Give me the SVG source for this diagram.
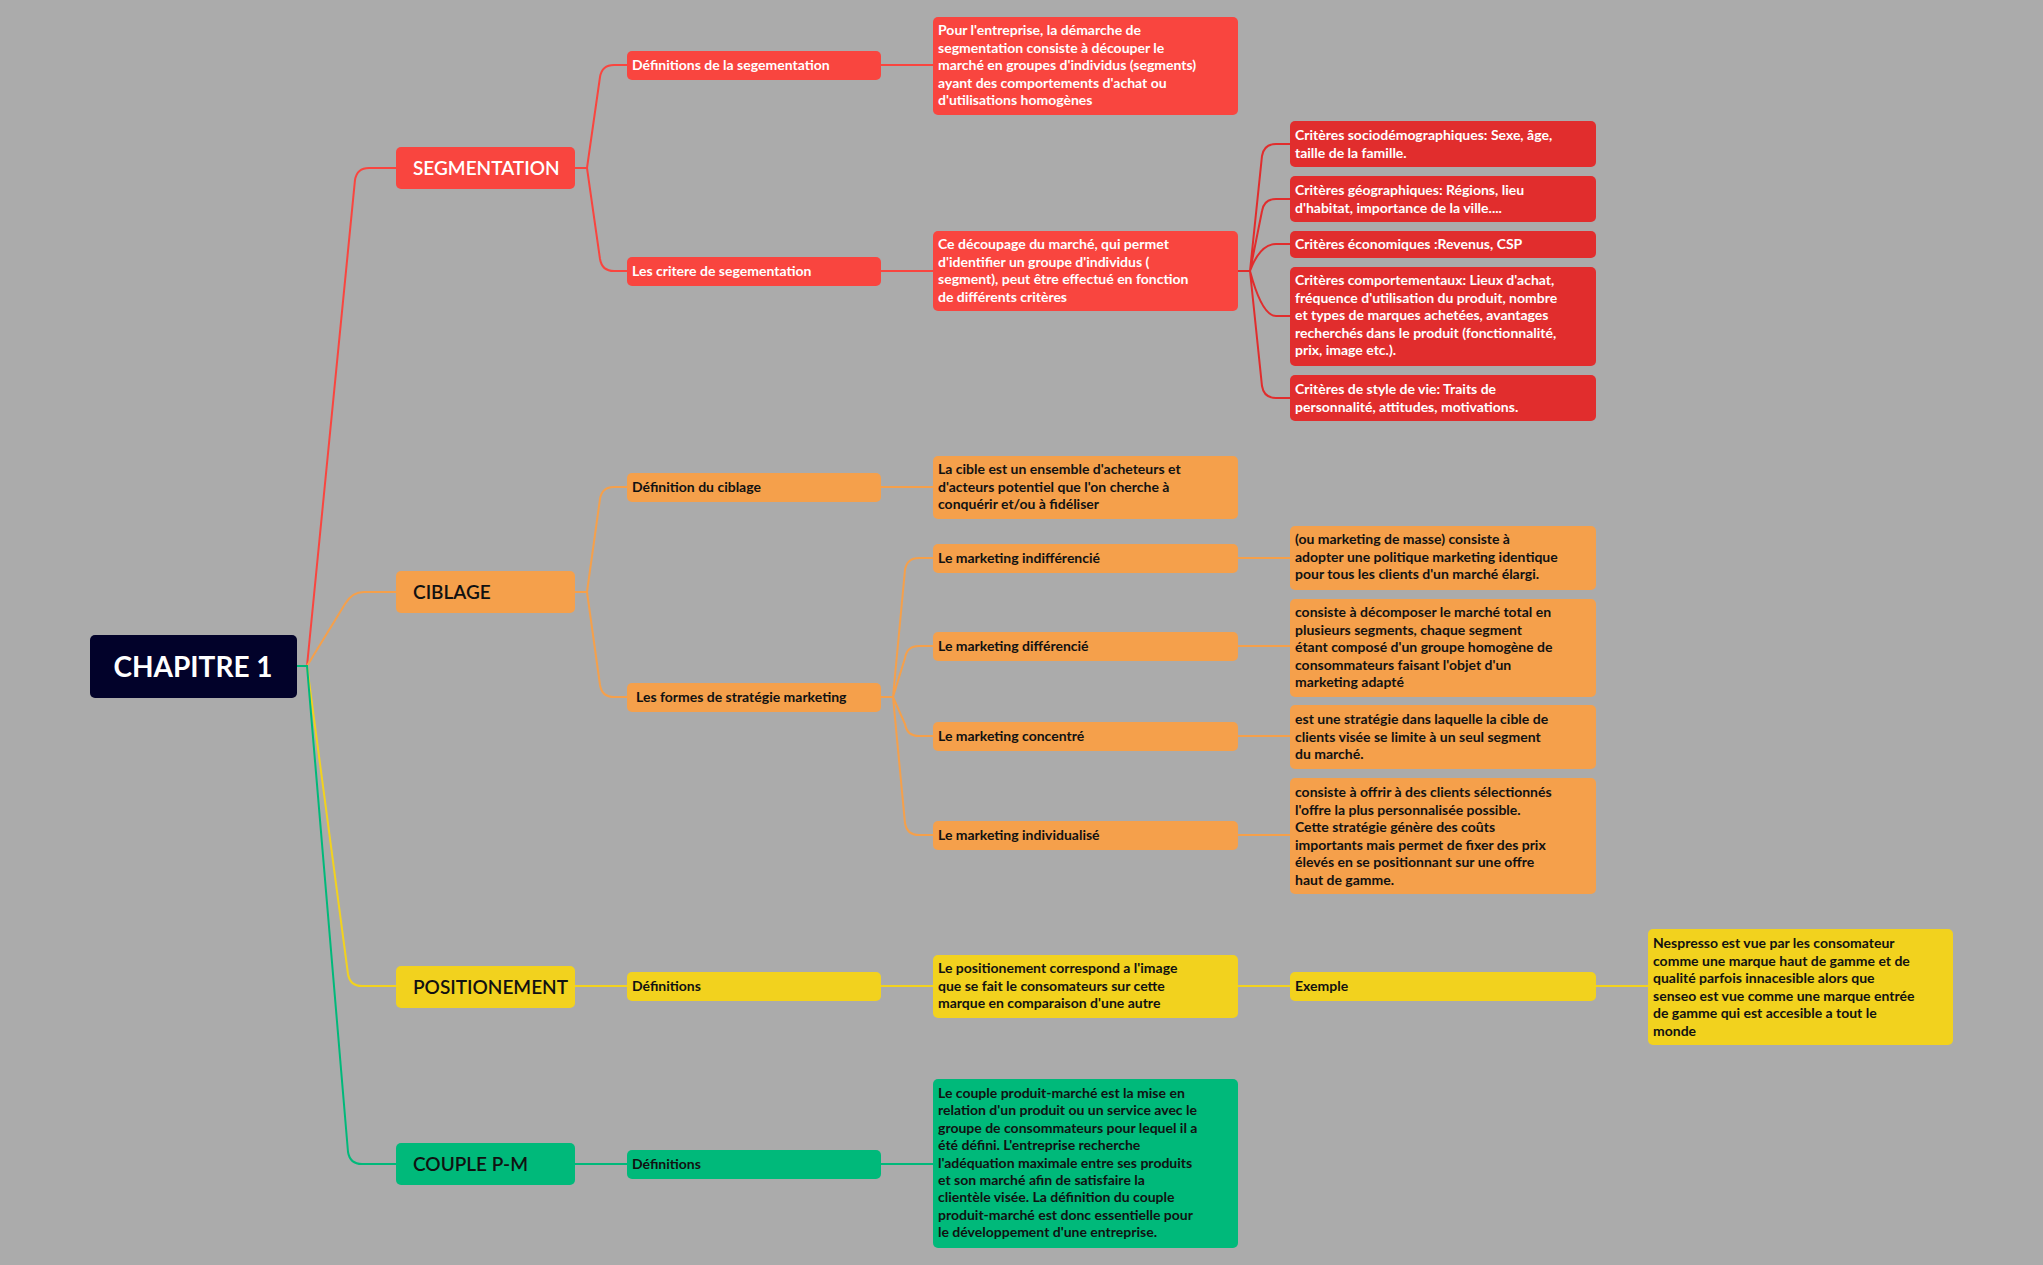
<svg xmlns="http://www.w3.org/2000/svg" width="2043" height="1265" viewBox="0 0 2043 1265">
<style>
text{font-family:Lato,"Open Sans","Liberation Sans",sans-serif;font-weight:700}
.t{font-size:14px}
.w{fill:#fff}.k{fill:#111}
.l1{font-size:19px;font-weight:600}
.c path{fill:none;stroke-width:2}
.r{fill:#f9453f}.rd{fill:#e12d2d}.o{fill:#f5a04b}.y{fill:#f2d21e}.g{fill:#00b97a}
</style>
<rect width="2043" height="1265" fill="#ababab"/>
<g class="c">
<path stroke="#f9453f" d="M297,666 H307 L355,180 Q357,168 369,168 H396"/>
<path stroke="#f5a04b" d="M297,666 H307 L345,604 Q352,592 364,592 H396"/>
<path stroke="#f2d21e" d="M297,666 H307 L348,974 Q350,986 362,986 H396"/>
<path stroke="#00b97a" d="M297,666 H307 L348,1152 Q350,1164 362,1164 H396"/>
<path stroke="#f9453f" d="M575,168 H587 L600,77 Q602,65 614,65 H627"/>
<path stroke="#f9453f" d="M575,168 H587 L600,259 Q602,271 614,271 H627"/>
<path stroke="#f9453f" d="M881,65 H933 M881,271 H933"/>
<path stroke="#e12d2d" d="M1238,271 H1250 L1262,156 Q1264,144 1276,144 H1290 M1250,271 L1262,211 Q1264,199 1276,199 H1290 M1250,271 Q1260,244 1276,244 H1290 M1250,271 Q1262,316 1276,316 H1290 M1250,271 L1262,386 Q1264,398 1276,398 H1290"/>
<path stroke="#f5a04b" d="M575,592 H587 L600,499 Q602,487 614,487 H627 M587,592 L600,685 Q602,697 614,697 H627"/>
<path stroke="#f5a04b" d="M881,487 H933 M881,697 H893 L905,570 Q907,558 919,558 H933 M893,697 L905,658 Q907,646 919,646 H933 M893,697 L905,724 Q907,736 919,736 H933 M893,697 L905,823 Q907,835 919,835 H933"/>
<path stroke="#f5a04b" d="M1238,558 H1290 M1238,646 H1290 M1238,736 H1290 M1238,835 H1290"/>
<path stroke="#f2d21e" d="M575,986 H627 M881,986 H933 M1238,986 H1290 M1596,986 H1648"/>
<path stroke="#00b97a" d="M575,1164 H627 M881,1164 H933"/>
</g>
<g id="root"><rect x="90" y="635" width="207" height="63" rx="5" fill="#02022a"/><text x="193" y="677" text-anchor="middle" class="w" font-size="28">CHAPITRE 1</text></g>
<g id="segmentation"><rect class="r" x="396" y="147" width="179" height="42" rx="5"/><text class="l1 w" x="413" y="175">SEGMENTATION</text></g>
<g id="ciblage"><rect class="o" x="396" y="571" width="179" height="42" rx="5"/><text class="l1 k" x="413" y="599">CIBLAGE</text></g>
<g id="positionement"><rect class="y" x="396" y="966" width="179" height="42" rx="5"/><text class="l1 k" x="413" y="994">POSITIONEMENT</text></g>
<g id="couple"><rect class="g" x="396" y="1143" width="179" height="42" rx="5"/><text class="l1 k" x="413" y="1171">COUPLE P-M</text></g>
<g id="def-seg"><rect class="r" x="627" y="51" width="254" height="29" rx="5"/><text class="t w" x="632" y="70">Définitions de la segementation</text></g>
<g id="crit-seg"><rect class="r" x="627" y="257" width="254" height="29" rx="5"/><text class="t w" x="632" y="276">Les critere de segementation</text></g>
<g id="def-cib"><rect class="o" x="627" y="473" width="254" height="29" rx="5"/><text class="t k" x="632" y="492">Définition du ciblage</text></g>
<g id="formes"><rect class="o" x="627" y="683" width="254" height="29" rx="5"/><text class="t k" x="636" y="702">Les formes de stratégie marketing</text></g>
<g id="def-pos"><rect class="y" x="627" y="972" width="254" height="29" rx="5"/><text class="t k" x="632" y="991">Définitions</text></g>
<g id="def-cpm"><rect class="g" x="627" y="1150" width="254" height="29" rx="5"/><text class="t k" x="632" y="1169">Définitions</text></g>
<g id="seg-def-text"><rect class="r" x="933" y="17" width="305" height="98" rx="5"/><text class="t w" x="938" y="35"><tspan x="938">Pour l'entreprise, la démarche de</tspan><tspan x="938" dy="17.6">segmentation consiste à découper le</tspan><tspan x="938" dy="17.6">marché en groupes d'individus (segments)</tspan><tspan x="938" dy="17.6">ayant des comportements d'achat ou</tspan><tspan x="938" dy="17.6">d'utilisations homogènes</tspan></text></g>
<g id="decoupage"><rect class="r" x="933" y="231" width="305" height="80" rx="5"/><text class="t w" x="938" y="249"><tspan x="938">Ce découpage du marché, qui permet</tspan><tspan x="938" dy="17.6">d'identifier un groupe d'individus (</tspan><tspan x="938" dy="17.6">segment), peut être effectué en fonction</tspan><tspan x="938" dy="17.6">de différents critères</tspan></text></g>
<g id="cible-text"><rect class="o" x="933" y="456" width="305" height="63" rx="5"/><text class="t k" x="938" y="474"><tspan x="938">La cible est un ensemble d'acheteurs et</tspan><tspan x="938" dy="17.6">d'acteurs potentiel que l'on cherche à</tspan><tspan x="938" dy="17.6">conquérir et/ou à fidéliser</tspan></text></g>
<g id="m-indiff"><rect class="o" x="933" y="544" width="305" height="29" rx="5"/><text class="t k" x="938" y="563">Le marketing indifférencié</text></g>
<g id="m-diff"><rect class="o" x="933" y="632" width="305" height="29" rx="5"/><text class="t k" x="938" y="651">Le marketing différencié</text></g>
<g id="m-conc"><rect class="o" x="933" y="722" width="305" height="29" rx="5"/><text class="t k" x="938" y="741">Le marketing concentré</text></g>
<g id="m-indiv"><rect class="o" x="933" y="821" width="305" height="29" rx="5"/><text class="t k" x="938" y="840">Le marketing individualisé</text></g>
<g id="pos-text"><rect class="y" x="933" y="955" width="305" height="63" rx="5"/><text class="t k" x="938" y="973"><tspan x="938">Le positionement correspond a l'image</tspan><tspan x="938" dy="17.6">que se fait le consomateurs sur cette</tspan><tspan x="938" dy="17.6">marque en comparaison d'une autre</tspan></text></g>
<g id="cpm-text"><rect class="g" x="933" y="1079" width="305" height="169" rx="5"/><text class="t k" x="938" y="1098"><tspan x="938">Le couple produit-marché est la mise en</tspan><tspan x="938" dy="17.4">relation d'un produit ou un service avec le</tspan><tspan x="938" dy="17.4">groupe de consommateurs pour lequel il a</tspan><tspan x="938" dy="17.4">été défini. L'entreprise recherche</tspan><tspan x="938" dy="17.4">l'adéquation maximale entre ses produits</tspan><tspan x="938" dy="17.4">et son marché afin de satisfaire la</tspan><tspan x="938" dy="17.4">clientèle visée. La définition du couple</tspan><tspan x="938" dy="17.4">produit-marché est donc essentielle pour</tspan><tspan x="938" dy="17.4">le développement d'une entreprise.</tspan></text></g>
<g id="crit-socio"><rect class="rd" x="1290" y="121" width="306" height="46" rx="5"/><text class="t w" x="1295" y="140"><tspan x="1295">Critères sociodémographiques: Sexe, âge,</tspan><tspan x="1295" dy="17.6">taille de la famille.</tspan></text></g>
<g id="crit-geo"><rect class="rd" x="1290" y="176" width="306" height="46" rx="5"/><text class="t w" x="1295" y="195"><tspan x="1295">Critères géographiques: Régions, lieu</tspan><tspan x="1295" dy="17.6">d'habitat, importance de la ville....</tspan></text></g>
<g id="crit-eco"><rect class="rd" x="1290" y="231" width="306" height="27" rx="5"/><text class="t w" x="1295" y="249">Critères économiques :Revenus, CSP</text></g>
<g id="crit-comp"><rect class="rd" x="1290" y="267" width="306" height="99" rx="5"/><text class="t w" x="1295" y="285"><tspan x="1295">Critères comportementaux: Lieux d'achat,</tspan><tspan x="1295" dy="17.6">fréquence d'utilisation du produit, nombre</tspan><tspan x="1295" dy="17.6">et types de marques achetées, avantages</tspan><tspan x="1295" dy="17.6">recherchés dans le produit (fonctionnalité,</tspan><tspan x="1295" dy="17.6">prix, image etc.).</tspan></text></g>
<g id="crit-style"><rect class="rd" x="1290" y="375" width="306" height="46" rx="5"/><text class="t w" x="1295" y="394"><tspan x="1295">Critères de style de vie: Traits de</tspan><tspan x="1295" dy="17.6">personnalité, attitudes, motivations.</tspan></text></g>
<g id="indiff-text"><rect class="o" x="1290" y="526" width="306" height="64" rx="5"/><text class="t k" x="1295" y="544"><tspan x="1295"> (ou marketing de masse) consiste à</tspan><tspan x="1295" dy="17.6">adopter une politique marketing identique</tspan><tspan x="1295" dy="17.6">pour tous les clients d'un marché élargi.</tspan></text></g>
<g id="diff-text"><rect class="o" x="1290" y="599" width="306" height="98" rx="5"/><text class="t k" x="1295" y="617"><tspan x="1295">consiste à décomposer le marché total en</tspan><tspan x="1295" dy="17.6">plusieurs segments, chaque segment</tspan><tspan x="1295" dy="17.6">étant composé d'un groupe homogène de</tspan><tspan x="1295" dy="17.6">consommateurs faisant l'objet d'un</tspan><tspan x="1295" dy="17.6">marketing adapté</tspan></text></g>
<g id="conc-text"><rect class="o" x="1290" y="705" width="306" height="64" rx="5"/><text class="t k" x="1295" y="724"><tspan x="1295">est une stratégie dans laquelle la cible de</tspan><tspan x="1295" dy="17.6">clients visée se limite à un seul segment</tspan><tspan x="1295" dy="17.6">du marché.</tspan></text></g>
<g id="indiv-text"><rect class="o" x="1290" y="778" width="306" height="116" rx="5"/><text class="t k" x="1295" y="797"><tspan x="1295">consiste à offrir à des clients sélectionnés</tspan><tspan x="1295" dy="17.6">l'offre la plus personnalisée possible.</tspan><tspan x="1295" dy="17.6">Cette stratégie génère des coûts</tspan><tspan x="1295" dy="17.6">importants mais permet de fixer des prix</tspan><tspan x="1295" dy="17.6">élevés en se positionnant sur une offre</tspan><tspan x="1295" dy="17.6">haut de gamme.</tspan></text></g>
<g id="exemple"><rect class="y" x="1290" y="972" width="306" height="29" rx="5"/><text class="t k" x="1295" y="991">Exemple</text></g>
<g id="nespresso"><rect class="y" x="1648" y="929" width="305" height="116" rx="5"/><text class="t k" x="1653" y="948"><tspan x="1653">Nespresso est vue par les consomateur</tspan><tspan x="1653" dy="17.6">comme une marque haut de gamme et de</tspan><tspan x="1653" dy="17.6">qualité parfois innacesible alors que</tspan><tspan x="1653" dy="17.6">senseo est vue comme une marque entrée</tspan><tspan x="1653" dy="17.6">de gamme qui est accesible a tout le</tspan><tspan x="1653" dy="17.6">monde</tspan></text></g>
</svg>
